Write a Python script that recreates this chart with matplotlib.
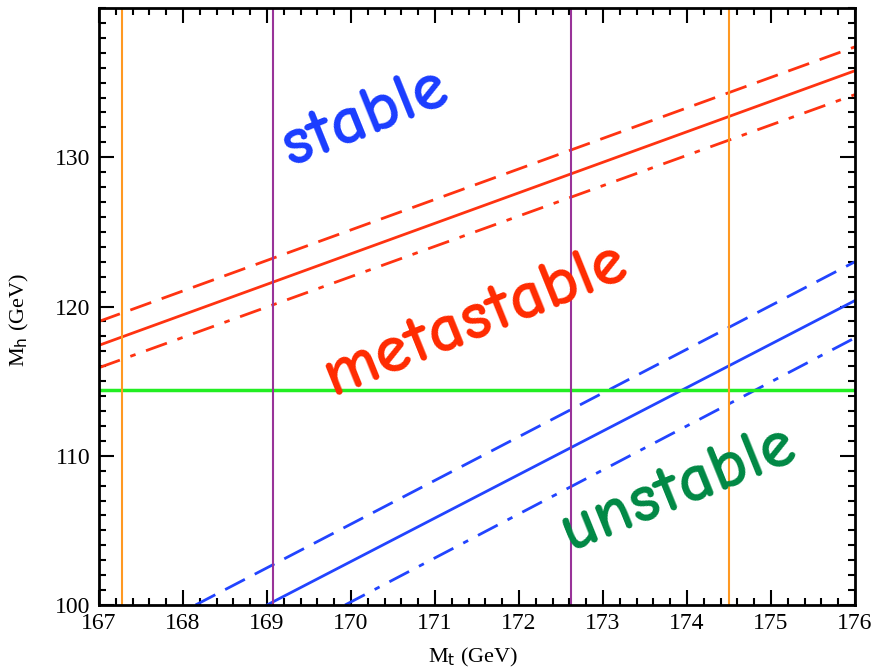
import matplotlib
matplotlib.use('Agg')
import matplotlib.pyplot as plt
from matplotlib.ticker import MultipleLocator

# stability bounds (M_t, M_h)
mt_red = [167.0, 176.0]
mh_red_central = [117.4, 135.8]
mh_red_upper = [119.0, 137.4]
mh_red_lower = [115.9, 134.2]

mt_blue_central = [169.0, 176.0]
mh_blue_central = [100.0, 120.4]
mt_blue_upper = [168.15, 176.0]
mh_blue_upper = [100.0, 123.0]
mt_blue_lower = [169.93, 176.0]
mh_blue_lower = [100.0, 117.9]

lep_bound = 114.4
mt_orange = [167.27, 174.5]
mt_purple = [169.07, 172.62]

fig = plt.figure(figsize=(8.83, 6.69), dpi=100)
ax = fig.add_axes([0.1121, 0.0957, 0.8562, 0.8923])

red = '#ff3311'
blue = '#2244ff'
ax.plot(mt_red, mh_red_central, color=red, lw=2)
ax.plot(mt_red, mh_red_upper, color=red, lw=2, dashes=(8, 4))
ax.plot(mt_red, mh_red_lower, color=red, lw=2, dashes=(8, 4, 2, 4))

ax.plot(mt_blue_central, mh_blue_central, color=blue, lw=2)
ax.plot(mt_blue_upper, mh_blue_upper, color=blue, lw=2, dashes=(8, 4))
ax.plot(mt_blue_lower, mh_blue_lower, color=blue, lw=2, dashes=(8, 4, 2, 4))

ax.axhline(lep_bound, color='#22ee22', lw=2.5)
for m in mt_orange:
    ax.axvline(m, color='#ff9922', lw=1.5)
for m in mt_purple:
    ax.axvline(m, color='#993399', lw=1.5)

hand = ['Comic Neue', 'Lato', 'DejaVu Sans']
ax.text(170.17, 132.6, 'stable', color='#1a3cff', fontsize=50, rotation=22,
        ha='center', va='center', family=hand, weight='bold', zorder=5)
ax.text(171.48, 119.1, 'metastable', color='#ff2a00', fontsize=50, rotation=22,
        ha='center', va='center', family=hand, weight='bold', zorder=5)
ax.text(173.9, 107.8, 'unstable', color='#008844', fontsize=50, rotation=22,
        ha='center', va='center', family=hand, weight='bold', zorder=5)

ax.set_xlim(167, 176)
ax.set_ylim(100, 140)
ax.xaxis.set_major_locator(MultipleLocator(1))
ax.xaxis.set_minor_locator(MultipleLocator(0.2))
ax.set_yticks([100, 110, 120, 130])
ax.yaxis.set_minor_locator(MultipleLocator(1))
ax.tick_params(which='both', direction='in', top=True, right=True, width=1.5,
               labelsize=17, pad=6)
ax.tick_params(which='major', length=11)
ax.tick_params(which='minor', length=5)
for t in ax.get_xticklabels() + ax.get_yticklabels():
    t.set_family('Liberation Serif')
for s in ax.spines.values():
    s.set_linewidth(2)

ax.set_xlabel(r'M$_\mathrm{t}$ (GeV)', family='Liberation Serif', fontsize=16)
ax.set_ylabel(r'M$_\mathrm{h}$ (GeV)', family='Liberation Serif', fontsize=16)
ax.xaxis.set_label_coords(0.495, -0.068)
ax.yaxis.set_label_coords(-0.09, 0.477)

fig.savefig('out.png', dpi=100)
